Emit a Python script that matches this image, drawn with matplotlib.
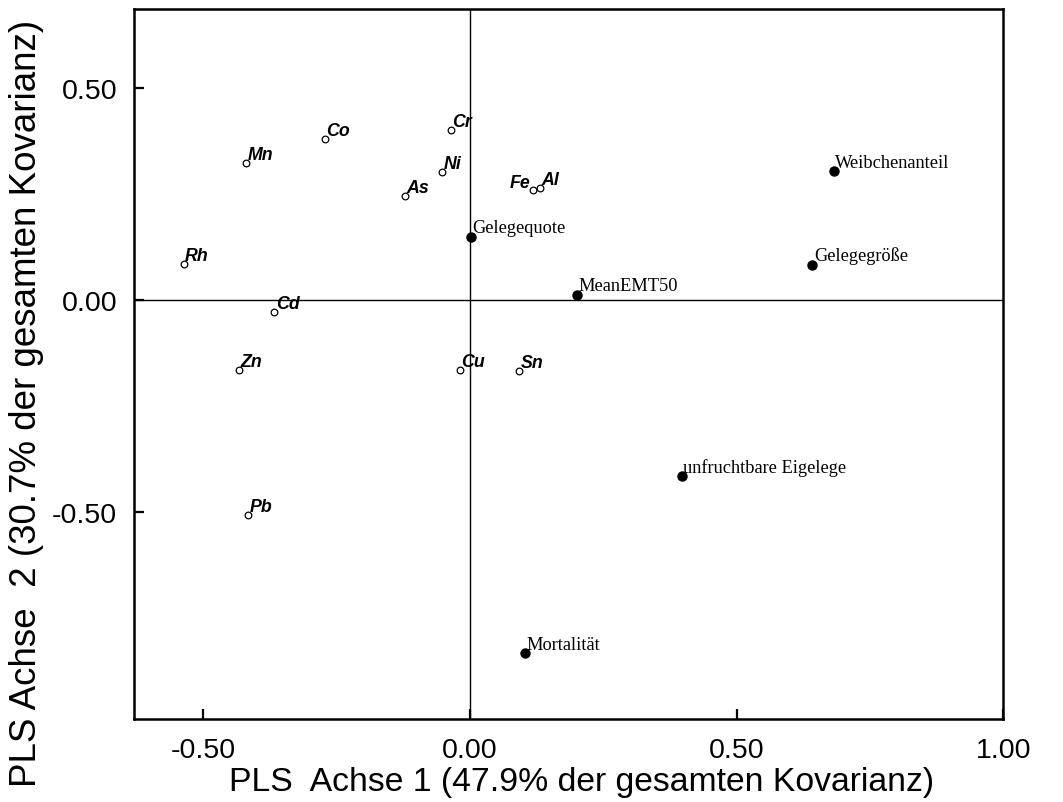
import matplotlib
matplotlib.use("Agg")
import matplotlib.pyplot as plt

# PLS loadings: element concentrations (open circles)
elements = ["Co", "Mn", "Cr", "Ni", "As", "Fe", "Al", "Rh", "Cd", "Zn", "Cu", "Sn", "Pb"]
elem_x = [-0.272, -0.419, -0.036, -0.052, -0.122, 0.118, 0.131, -0.537, -0.367, -0.433, -0.019, 0.092, -0.416]
elem_y = [0.380, 0.323, 0.401, 0.302, 0.245, 0.259, 0.264, 0.085, -0.028, -0.165, -0.165, -0.167, -0.507]

# PLS loadings: reproduction / response variables (filled circles)
responses = ["Gelegequote", "Weibchenanteil", "Gelegegröße", "MeanEMT50",
             "unfruchtbare Eigelege", "Mortalität"]
resp_x = [0.002, 0.682, 0.642, 0.200, 0.397, 0.103]
resp_y = [0.149, 0.304, 0.083, 0.012, -0.417, -0.833]

x_ticks = [-0.5, 0.0, 0.5, 1.0]
y_ticks = [-0.5, 0.0, 0.5]
x_label = "PLS  Achse 1 (47.9% der gesamten Kovarianz)"
y_label = "PLS Achse  2 (30.7% der gesamten Kovarianz)"

sans = "Liberation Sans"
serif = "Liberation Serif"

fig = plt.figure(figsize=(10.63, 8.03), dpi=100)
ax = fig.add_axes([0.126, 0.103, 0.818, 0.8845])

ax.set_xlim(-0.63, 1.0)
ax.set_ylim(-0.99, 0.686)

# origin cross
ax.axhline(0, color="black", lw=1.0, zorder=1)
ax.axvline(0, color="black", lw=1.0, zorder=1)

ax.plot(elem_x, elem_y, linestyle="none", marker="o", ms=4.8,
        mfc="white", mec="black", mew=0.9, zorder=3)
ax.plot(resp_x, resp_y, linestyle="none", marker="o", ms=6.5,
        mfc="black", mec="black", zorder=3)

for name, x, y in zip(elements, elem_x, elem_y):
    if name == "Fe":
        off, ha = (-2, 2.5), "right"
    else:
        off, ha = (1.0, 2.5), "left"
    ax.annotate(name, (x, y), xytext=off, textcoords="offset points",
                ha=ha, va="baseline", fontsize=12.8, fontfamily=sans,
                fontweight="bold", fontstyle="italic", zorder=4)

for name, x, y in zip(responses, resp_x, resp_y):
    ax.annotate(name, (x, y), xytext=(1.0, 3), textcoords="offset points",
                ha="left", va="baseline", fontsize=13.2, fontfamily=serif,
                zorder=4)

ax.set_xticks(x_ticks)
ax.set_yticks(y_ticks)
ax.set_xticklabels([f"{v:.2f}" for v in x_ticks])
ax.set_yticklabels([f"{v:.2f}" for v in y_ticks])
ax.tick_params(axis="both", direction="in", length=7, width=1.6,
               labelsize=20.5, colors="black")
ax.tick_params(axis="x", pad=13)
ax.tick_params(axis="y", pad=12)
for lab in ax.get_xticklabels() + ax.get_yticklabels():
    lab.set_fontfamily(sans)

for sp in ax.spines.values():
    sp.set_linewidth(1.8)
    sp.set_color("black")

ax.set_xlabel(x_label, fontsize=24.3, fontfamily=sans)
ax.set_ylabel(y_label, fontsize=26.5, fontfamily=sans)
ax.xaxis.set_label_coords(0.515, -0.066)
ax.yaxis.set_label_coords(-0.104, 0.446)

fig.savefig("out.png", dpi=100, facecolor="white")
